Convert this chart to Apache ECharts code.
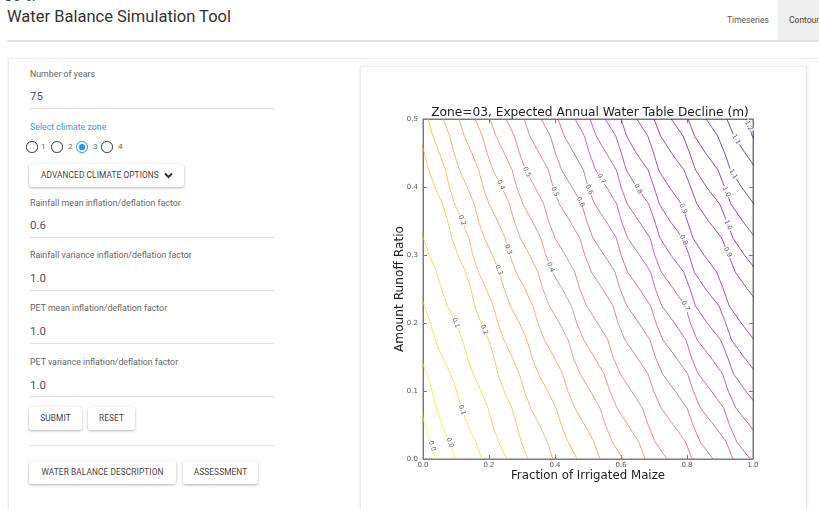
<!DOCTYPE html>
<html>
<head>
<meta charset="utf-8">
<title>Water Balance Simulation Tool</title>
<script src="https://cdn.jsdelivr.net/npm/echarts@6/dist/echarts.min.js"></script>
<style>
  html, body { margin: 0; padding: 0; width: 819px; height: 509px; overflow: hidden; background: #fff;
    font-family: Roboto, "Noto Sans", sans-serif; }
  .abs { position: absolute; line-height: 1; white-space: nowrap; }
  #topcut { left: 4px; top: -11px; font-size: 15px; color: #444; }
  #apptitle { left: 7px; top: 9px; font-size: 16.5px; color: #333; }
  #tab1 { left: 727px; top: 16px; font-size: 8.5px; color: #555; }
  #tab2 { left: 778px; top: 0; width: 41px; height: 40px; background: #eeeeee; }
  #tab2 span { position: absolute; left: 11px; top: 16px; font-size: 8.5px; color: #444; }
  #hdrline { left: 7px; top: 40px; width: 812px; height: 2px; background: #e2e2e2; }
  #outer { left: 8px; top: 58px; width: 840px; height: 480px; border: 1px solid #ececec;
    box-shadow: 0 0 2px rgba(0,0,0,0.10); background: #fff; }
  .lbl { font-size: 8.8px; color: #666; }
  .val { font-size: 11.5px; color: #555; }
  .uline { height: 1px; background: #e0e0e0; left: 29px; width: 246px; }
  .btn { background: #fff; border-radius: 2px; box-shadow: 0 1px 3px rgba(0,0,0,0.28), 0 0 1px rgba(0,0,0,0.12);
    font-size: 8.3px; color: #444; display: flex; align-items: center; justify-content: center; letter-spacing: 0.1px; }
  .radio { width: 9.5px; height: 9.5px; border: 1.1px solid #333; border-radius: 50%; }
  .radio.on { border-color: #2196f3; }
  .radio.on::after { content: ""; position: absolute; left: 1.9px; top: 1.9px; width: 5.7px; height: 5.7px;
    border-radius: 50%; background: #2196f3; }
  .rnum { font-size: 8px; color: #666; }
  #card { left: 360px; top: 66px; width: 445px; height: 470px; border: 1px solid #ececec;
    box-shadow: 0 0 3px rgba(0,0,0,0.10); background: #fff; }
  #chart { position: absolute; left: 360px; top: 66px; width: 445px; height: 443px; }
</style>
</head>
<body>
<div class="abs" id="topcut">80%.</div>
<div class="abs" id="apptitle">Water Balance Simulation Tool</div>
<div class="abs" id="tab1">Timeseries</div>
<div class="abs" id="tab2"><span>Contours</span></div>
<div class="abs" id="hdrline"></div>

<div class="abs" id="outer"></div>

<!-- simulation form -->
<div class="abs lbl" style="left:30px;top:70px;">Number of years</div>
<div class="abs val" style="left:30px;top:91px;">75</div>
<div class="abs uline" style="top:108px;"></div>

<div class="abs lbl" style="left:30px;top:123px;color:#4a90e2;">Select climate zone</div>
<div class="abs radio" style="left:26px;top:141px;"></div>
<div class="abs rnum" style="left:41px;top:143px;">1</div>
<div class="abs radio" style="left:51px;top:141px;"></div>
<div class="abs rnum" style="left:68px;top:143px;">2</div>
<div class="abs radio on" style="left:76px;top:141px;"></div>
<div class="abs rnum" style="left:93px;top:143px;">3</div>
<div class="abs radio" style="left:101px;top:141px;"></div>
<div class="abs rnum" style="left:118px;top:143px;">4</div>

<div class="abs btn" style="left:29px;top:164px;width:155px;height:23px;justify-content:flex-start;">
  <span style="margin-left:12px;">ADVANCED CLIMATE OPTIONS</span>
  <svg width="9" height="7" viewBox="0 0 9 7" style="margin-left:5px;"><polyline points="1,1.5 4.5,5 8,1.5" fill="none" stroke="#333" stroke-width="2"/></svg>
</div>

<div class="abs lbl" style="left:30px;top:199px;">Rainfall mean inflation/deflation factor</div>
<div class="abs val" style="left:30px;top:220px;">0.6</div>
<div class="abs uline" style="top:237px;"></div>

<div class="abs lbl" style="left:30px;top:251px;">Rainfall variance inflation/deflation factor</div>
<div class="abs val" style="left:30px;top:273px;">1.0</div>
<div class="abs uline" style="top:290px;"></div>

<div class="abs lbl" style="left:30px;top:304px;">PET mean inflation/deflation factor</div>
<div class="abs val" style="left:30px;top:326px;">1.0</div>
<div class="abs uline" style="top:343px;"></div>

<div class="abs lbl" style="left:30px;top:358px;">PET variance inflation/deflation factor</div>
<div class="abs val" style="left:30px;top:380px;">1.0</div>
<div class="abs uline" style="top:396px;"></div>

<div class="abs btn" style="left:29px;top:407px;width:53px;height:23px;">SUBMIT</div>
<div class="abs btn" style="left:88px;top:407px;width:47px;height:23px;">RESET</div>
<div class="abs uline" style="top:445px;background:#ececec;"></div>
<div class="abs btn" style="left:29px;top:461px;width:147px;height:23px;">WATER BALANCE DESCRIPTION</div>
<div class="abs btn" style="left:183px;top:461px;width:75px;height:23px;">ASSESSMENT</div>

<div class="abs" id="card"></div>
<div id="chart"></div>

<script>
// Contour levels of expected annual water-table decline (m)
const levels = [0.00, 0.05, 0.10, 0.15, 0.20, 0.25, 0.30, 0.35, 0.40, 0.45, 0.50, 0.55, 0.60,
                0.65, 0.70, 0.75, 0.80, 0.85, 0.90, 0.95, 1.00, 1.05, 1.10, 1.15, 1.20];

// Runoff-ratio rows at which each contour's irrigated-maize fraction is given
const rowY = [0.500, 0.475, 0.450, 0.425, 0.400, 0.375, 0.350, 0.325, 0.300, 0.275, 0.250,
              0.225, 0.200, 0.175, 0.150, 0.125, 0.100, 0.075, 0.050, 0.025, 0.000];

// Irrigated-maize fraction where each contour crosses the rows above (null = not present)
const c000 = [null, null, null, null, null, null, null, null, null, null, null, null, null, null, null, null,
              -0.027, -0.008, 0.006, 0.024, 0.037];
const c005 = [null, null, null, null, null, null, null, null, null, null, null, null, null, null,
              -0.009, 0.012, 0.028, 0.040, 0.058, 0.081, 0.098];
const c010 = [null, null, null, null, null, null, null, null, null, null,
              -0.018, 0.005, 0.022, 0.037, 0.058, 0.084, 0.102, 0.116, 0.136, 0.160, 0.178];
const c015 = [null, null, null, null, null, null,
              -0.021, 0.001, 0.019, 0.041, 0.056, 0.074, 0.099, 0.120, 0.134, 0.152, 0.176, 0.197, 0.211, 0.229, 0.254];
const c020 = [-0.032, -0.011, 0.004, 0.017, 0.036, 0.059, 0.075, 0.087, 0.106, 0.129, 0.145,
              0.157, 0.176, 0.199, 0.215, 0.227, 0.246, 0.269, 0.284, 0.298, 0.318];
const c025 = [0.015, 0.030, 0.050, 0.068, 0.080, 0.096, 0.119, 0.139, 0.151, 0.168, 0.192,
              0.213, 0.227, 0.245, 0.270, 0.292, 0.307, 0.326, 0.353, 0.377, 0.394];
const c030 = [0.061, 0.081, 0.094, 0.111, 0.134, 0.155, 0.168, 0.186, 0.210, 0.232, 0.246,
              0.265, 0.292, 0.315, 0.330, 0.350, 0.378, 0.403, 0.419, 0.440, 0.467];
const c035 = [0.109, 0.125, 0.148, 0.169, 0.182, 0.200, 0.226, 0.249, 0.263, 0.282, 0.309,
              0.333, 0.348, 0.368, 0.397, 0.423, 0.439, 0.460, 0.490, 0.518, 0.536];
const c040 = [0.158, 0.180, 0.194, 0.212, 0.238, 0.262, 0.276, 0.295, 0.323, 0.348, 0.363,
              0.383, 0.413, 0.440, 0.455, 0.476, 0.507, 0.536, 0.553, 0.574, 0.606];
const c045 = [0.203, 0.221, 0.246, 0.270, 0.284, 0.303, 0.331, 0.357, 0.372, 0.392, 0.422,
              0.450, 0.466, 0.487, 0.519, 0.549, 0.566, 0.588, 0.621, 0.654, 0.673];
const c050 = [0.252, 0.277, 0.292, 0.311, 0.339, 0.366, 0.380, 0.400, 0.431, 0.460, 0.475,
              0.496, 0.529, 0.560, 0.576, 0.598, 0.632, 0.665, 0.682, 0.704, 0.739];
const c055 = [0.306, 0.324, 0.352, 0.380, 0.394, 0.413, 0.445, 0.475, 0.490, 0.510, 0.544,
              0.576, 0.591, 0.612, 0.648, 0.682, 0.699, 0.721, 0.759, 0.796, 0.815];
const c060 = [0.358, 0.386, 0.401, 0.420, 0.451, 0.481, 0.496, 0.515, 0.549, 0.582, 0.597,
              0.618, 0.654, 0.688, 0.704, 0.726, 0.764, 0.800, 0.818, 0.840, 0.879];
const c065 = [0.409, 0.428, 0.457, 0.486, 0.500, 0.520, 0.554, 0.586, 0.600, 0.620, 0.656,
              0.690, 0.706, 0.727, 0.766, 0.802, 0.819, 0.841, 0.881, 0.919, 0.939];
const c070 = [0.461, 0.489, 0.504, 0.523, 0.556, 0.587, 0.601, 0.620, 0.656, 0.690, 0.704,
              0.724, 0.762, 0.797, 0.813, 0.834, 0.874, 0.911, 0.929, 0.951, 0.991];
const c075 = [0.506, 0.525, 0.555, 0.586, 0.600, 0.619, 0.654, 0.688, 0.702, 0.722, 0.759,
              0.795, 0.810, 0.831, 0.871, 0.908, 0.925, 0.948, 0.989, 1.028, 1.048];
const c080 = [0.552, 0.584, 0.601, 0.616, 0.647, 0.684, 0.702, 0.718, 0.751, 0.790, 0.809,
              0.826, 0.861, 0.902, 0.923, 0.941, 0.978, 1.020, 1.042, null, null];
const c085 = [0.600, 0.617, 0.646, 0.682, 0.700, 0.716, 0.748, 0.787, 0.806, 0.822, 0.856,
              0.897, 0.917, 0.935, 0.972, 1.013, 1.034, null, null, null, null];
const c090 = [0.648, 0.681, 0.699, 0.714, 0.746, 0.783, 0.801, 0.818, 0.851, 0.890, 0.910,
              0.928, 0.964, 1.004, 1.025, null, null, null, null, null, null];
const c095 = [0.700, 0.720, 0.753, 0.791, 0.811, 0.830, 0.865, 0.905, 0.926, 0.946, 0.983,
              1.022, 1.045, null, null, null, null, null, null, null, null];
const c100 = [0.752, 0.788, 0.808, 0.826, 0.859, 0.899, 0.920, 0.939, 0.974, 1.014, 1.036,
              null, null, null, null, null, null, null, null, null, null];
const c105 = [0.803, 0.823, 0.856, 0.894, 0.914, 0.933, 0.968, 1.008, 1.030,
              null, null, null, null, null, null, null, null, null, null, null, null];
const c110 = [0.858, 0.893, 0.914, 0.932, 0.965, 1.003, 1.024,
              null, null, null, null, null, null, null, null, null, null, null, null, null, null];
const c115 = [0.921, 0.942, 0.976, 1.012, 1.033,
              null, null, null, null, null, null, null, null, null, null, null, null, null, null, null, null];
const c120 = [0.979, 0.998, 1.033,
              null, null, null, null, null, null, null, null, null, null, null, null, null, null, null, null, null, null];

const contourX = [c000, c005, c010, c015, c020, c025, c030, c035, c040, c045, c050, c055, c060,
                  c065, c070, c075, c080, c085, c090, c095, c100, c105, c110, c115, c120];

// Inline contour labels: [level, runoff ratio where the label sits]
const labelAt = [
  [0.00, 0.019], [0.05, 0.024], [0.10, 0.072], [0.15, 0.200], [0.20, 0.190], [0.25, 0.351],
  [0.30, 0.278], [0.35, 0.308], [0.40, 0.403], [0.45, 0.282], [0.50, 0.422], [0.55, 0.393],
  [0.60, 0.378], [0.65, 0.396], [0.70, 0.412], [0.75, 0.225], [0.80, 0.397], [0.85, 0.322],
  [0.90, 0.368], [0.95, 0.304], [1.00, 0.344], [1.05, 0.393], [1.10, 0.419], [1.15, 0.470],
  [1.20, 0.490]
];

const titleText = 'Zone=03, Expected Annual Water Table Decline (m)';
const xName = 'Fraction of Irrigated Maize';
const yName = 'Amount Runoff Ratio';

// reversed "plasma" colour ramp: low levels yellow, high levels deep blue
const plasmaStops = ['#0d0887', '#41049d', '#6a00a8', '#8f0da4', '#b12a90', '#cc4778',
                     '#e16462', '#f2844b', '#fca636', '#fcce25', '#f0f921'];
function hexToRgb(h) { return [1, 3, 5].map(i => parseInt(h.substr(i, 2), 16)); }
function plasmaR(level) {
  const lo = levels[0], hi = levels[levels.length - 1];
  const p = 1 - (level - lo) / (hi - lo);
  const f = p * (plasmaStops.length - 1);
  const i = Math.min(Math.floor(f), plasmaStops.length - 2);
  const t = f - i;
  const a = hexToRgb(plasmaStops[i]), b = hexToRgb(plasmaStops[i + 1]);
  const c = a.map((v, k) => Math.round(v + (b[k] - v) * t));
  return 'rgba(' + c[0] + ',' + c[1] + ',' + c[2] + ',0.7)';
}

// contour labels show the level truncated to one decimal, like the plotting package did
function levelText(level) { return (Math.floor(level * 10 + 1e-6) / 10).toFixed(1); }

const contourPts = levels.map((lv, i) =>
  rowY.map((y, j) => contourX[i][j] == null ? null : [contourX[i][j], y]).filter(p => p));

const FONT = '"DejaVu Sans", Verdana, sans-serif';
const chart = echarts.init(document.getElementById('chart'), null, { renderer: 'canvas' });

const axisCommon = {
  type: 'value', min: 0,
  axisLine: { show: true, onZero: false, lineStyle: { color: '#7a7a7a', width: 1 } },
  axisTick: { show: true, inside: true, length: 4, lineStyle: { color: '#7a7a7a' } },
  splitLine: { show: false },
  axisLabel: { fontFamily: FONT, fontSize: 7, color: '#555', formatter: v => v.toFixed(1) }
};

const option = {
  animation: false,
  backgroundColor: 'transparent',
  title: {
    text: titleText, left: 225, top: 36, textAlign: 'center',
    textStyle: { fontFamily: FONT, fontSize: 12.2, fontWeight: 'normal', color: '#222' }
  },
  grid: { left: 63, top: 53, width: 330, height: 340, show: true, borderColor: '#7a7a7a', borderWidth: 1,
          backgroundColor: 'transparent' },
  xAxis: [
    Object.assign({}, axisCommon, { max: 1, interval: 0.2, position: 'bottom',
      name: xName, nameLocation: 'middle', nameGap: 11, nameMoveOverlap: false,
      nameTextStyle: { fontFamily: FONT, fontSize: 11.8, color: '#222' },
      axisLabel: Object.assign({}, axisCommon.axisLabel, { margin: 3 }) }),
    Object.assign({}, axisCommon, { max: 1, interval: 0.2, position: 'top', axisLabel: { show: false } })
  ],
  yAxis: [
    Object.assign({}, axisCommon, { max: 0.5, interval: 0.1, position: 'left',
      name: yName, nameLocation: 'middle', nameGap: 17, nameRotate: 90, nameMoveOverlap: false,
      nameTextStyle: { fontFamily: FONT, fontSize: 12.2, color: '#222' },
      axisLabel: Object.assign({}, axisCommon.axisLabel, { margin: 5 }) }),
    Object.assign({}, axisCommon, { max: 0.5, interval: 0.1, position: 'right', axisLabel: { show: false } })
  ],
  series: contourPts.map((pts, i) => ({
    type: 'line', name: levelText(levels[i]), data: pts, xAxisIndex: 0, yAxisIndex: 0,
    symbol: 'none', showSymbol: false, clip: true, silent: true, z: 2,
    lineStyle: { width: 1, color: plasmaR(levels[i]) }
  }))
};
chart.setOption(option);

// place the inline labels on their contours, rotated along the local direction of the line
function pointOnContour(pts, y) {
  for (let k = 0; k < pts.length - 1; k++) {
    const a = pts[k], b = pts[k + 1];
    if ((y <= a[1] && y >= b[1]) || (y >= a[1] && y <= b[1])) {
      const t = (y - a[1]) / (b[1] - a[1]);
      // use the wider neighbourhood for the direction so the text follows the overall trend
      const a2 = pts[Math.max(0, k - 1)], b2 = pts[Math.min(pts.length - 1, k + 2)];
      return { x: a[0] + (b[0] - a[0]) * t, a: a2, b: b2 };
    }
  }
  return null;
}
const labelData = [];
labelAt.forEach(([lv, y]) => {
  const idx = levels.findIndex(v => Math.abs(v - lv) < 1e-9);
  if (idx < 0) return;
  const hit = pointOnContour(contourPts[idx], y);
  if (!hit || hit.x > 0.995 || hit.x < 0.005) return;
  const pa = chart.convertToPixel({ gridIndex: 0 }, hit.a);
  const pb = chart.convertToPixel({ gridIndex: 0 }, hit.b);
  let ang = Math.atan2(-(pb[1] - pa[1]), pb[0] - pa[0]) * 180 / Math.PI;
  if (ang > 90) ang -= 180;
  if (ang < -90) ang += 180;
  labelData.push({ value: [hit.x, y], label: { rotate: ang, formatter: levelText(lv) } });
});
chart.setOption({
  series: option.series.concat([{
    type: 'scatter', data: labelData, symbolSize: 1, silent: true, z: 5,
    itemStyle: { color: 'rgba(0,0,0,0)' },
    label: { show: true, position: 'inside', fontFamily: FONT, fontSize: 6.5, color: '#333',
             backgroundColor: '#fff', padding: [0, 1] }
  }])
});
</script>
</body>
</html>
